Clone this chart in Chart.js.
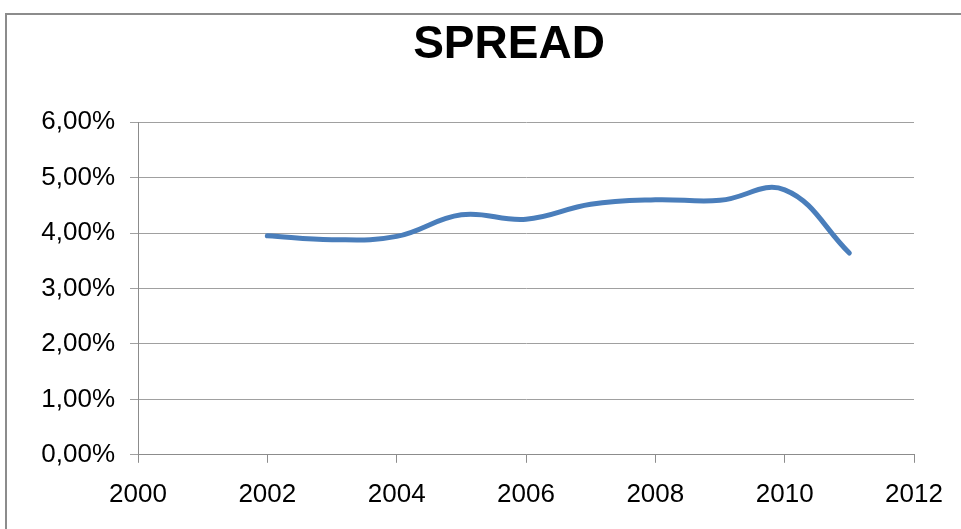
<!DOCTYPE html>
<html>
<head>
<meta charset="utf-8">
<script src="https://cdn.jsdelivr.net/npm/chart.js@4"></script>
<style>
  html, body { margin: 0; padding: 0; background: #fff; overflow: hidden; }
  #wrap { position: absolute; left: 0; top: 0; width: 1018px; height: 529px; }
  #frame { position: absolute; left: 5px; top: 13px; width: 1020px; height: 530px;
           border: 2px solid #8c8c8c; box-sizing: border-box; pointer-events: none; }
</style>
</head>
<body>
<div id="wrap"><canvas id="c" width="1018" height="529"></canvas></div>
<div id="frame"></div>
<script>
// Yearly spread, in percent
const years  = [2002, 2003, 2004, 2005, 2006, 2007, 2008, 2009, 2010, 2011];
const spread = [3.95, 3.88, 3.94, 4.33, 4.25, 4.52, 4.60, 4.59, 4.78, 3.64];
const yTicks = [0, 1, 2, 3, 4, 5, 6];
const xTicks = [2000, 2002, 2004, 2006, 2008, 2010, 2012];

const points = years.map((y, i) => ({ x: y, y: spread[i] }));
const pct = v => v.toFixed(2).replace('.', ',') + '%';
const FONT = '"Liberation Sans", Arial, sans-serif';

new Chart(document.getElementById('c'), {
  type: 'line',
  data: {
    datasets: [{
      label: 'SPREAD',
      data: points,
      borderColor: '#4a7ebb',
      borderWidth: 5,
      borderCapStyle: 'round',
      borderJoinStyle: 'round',
      pointRadius: 0,
      tension: 0.4,
      fill: false
    }]
  },
  options: {
    responsive: false,
    animation: false,
    layout: { padding: { left: 0, right: 0, top: 0, bottom: 3 } },
    plugins: {
      legend: { display: false },
      tooltip: { enabled: false },
      title: {
        display: true,
        text: 'SPREAD',
        color: '#000',
        font: { family: FONT, size: 46, weight: 'bold' },
        padding: { top: 18, bottom: 49 }
      }
    },
    scales: {
      x: {
        type: 'linear',
        min: xTicks[0],
        max: xTicks[xTicks.length - 1],
        afterBuildTicks: s => { s.ticks = xTicks.map(v => ({ value: v })); },
        // keep a wide empty margin to the right of the plot
        afterFit: s => { s.paddingRight = 104; },
        ticks: {
          color: '#000',
          font: { family: FONT, size: 26 },
          padding: 16,
          maxRotation: 0,
          autoSkip: false,
          callback: v => String(v)
        },
        grid: { drawOnChartArea: false, drawTicks: true, tickLength: 8, color: '#8c8c8c' },
        border: { display: true, color: '#8c8c8c', width: 1 }
      },
      y: {
        min: yTicks[0],
        max: yTicks[yTicks.length - 1],
        afterBuildTicks: s => { s.ticks = yTicks.map(v => ({ value: v })); },
        afterFit: s => { s.width = 138; },
        ticks: {
          color: '#000',
          font: { family: FONT, size: 26 },
          padding: 15,
          callback: v => pct(v)
        },
        grid: { color: '#a0a0a0', lineWidth: 1, tickLength: 8 },
        border: { display: true, color: '#8c8c8c', width: 1 }
      }
    }
  }
});
</script>
</body>
</html>
